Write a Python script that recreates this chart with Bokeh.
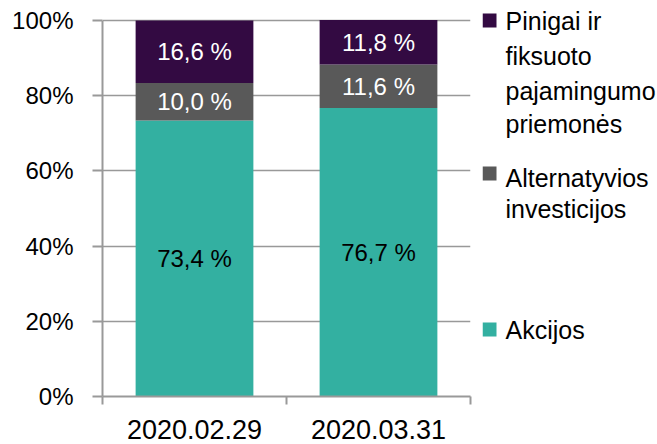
from bokeh.plotting import figure
from bokeh.layouts import row
from bokeh.models import FixedTicker, ColumnDataSource
from bokeh.core.properties import value
from bokeh.embed import file_html
from bokeh.resources import INLINE

# ---- data ----
categories = ["2020.02.29", "2020.03.31"]
akcijos = [73.4, 76.7]
alternatyvios = [10.0, 11.6]
pinigai = [16.6, 11.8]
series_names = ["Akcijos", "Alternatyvios investicijos",
                "Pinigai ir fiksuoto pajamingumo priemonės"]
legend_lines = [["Pinigai ir", "fiksuoto", "pajamingumo", "priemonės"],
                ["Alternatyvios", "investicijos"],
                ["Akcijos"]]
y_ticks = [0, 20, 40, 60, 80, 100]
y_tick_labels = ["0%", "20%", "40%", "60%", "80%", "100%"]

# ---- styles ----
colors = ["#33B0A1", "#595959", "#330A42"]
label_colors = ["black", "white", "white"]
FONT = "Liberation Sans"
AXIS_GRAY = "#999999"

W_TOTAL, H = 657, 444
W_FRAME = 368
TOP_GAP = 20          # pixels between canvas top and the 100% line
H_AXIS = 376          # pixel height of the 0..100% axis
B_LEFT, B_RIGHT = 102, 12
H_FRAME = TOP_GAP + H_AXIS
B_BOTTOM = H - H_FRAME
W_MAIN = B_LEFT + W_FRAME + B_RIGHT
W_LEG = W_TOTAL - W_MAIN
Y_MAX = 100.0
y_top = Y_MAX * H_FRAME / H_AXIS

p = figure(width=W_MAIN, height=H, title=None,
           x_range=(0, len(categories)), y_range=(0, y_top),
           output_backend="svg", toolbar_location=None,
           min_border_left=B_LEFT, min_border_right=B_RIGHT,
           min_border_top=0, min_border_bottom=B_BOTTOM)
p.outline_line_color = None

xs = [i + 0.5 for i in range(len(categories))]
series = [akcijos, alternatyvios, pinigai]
bottoms = [0.0] * len(categories)
lab_x, lab_y, lab_t, lab_c = [], [], [], []
for vals, col, lc in zip(series, colors, label_colors):
    tops = [b + v for b, v in zip(bottoms, vals)]
    p.vbar(x=xs, bottom=bottoms, top=tops, width=0.64,
           fill_color=col, line_color=None)
    for x, b, t, v in zip(xs, bottoms, tops, vals):
        lab_x.append(x)
        lab_y.append((b + t) / 2)
        lab_t.append(f"{v:.1f} %".replace(".", ","))
        lab_c.append(lc)
    bottoms = tops

src = ColumnDataSource(dict(x=lab_x, y=lab_y, text=lab_t, color=lab_c))
p.text(x="x", y="y", text="text", source=src, text_color="color",
       text_align="center", text_baseline="middle",
       text_font=value(FONT), text_font_size="24px")

# grid
p.xgrid.visible = False
p.ygrid.grid_line_color = AXIS_GRAY
p.ygrid.grid_line_width = 1.5
p.ygrid.ticker = FixedTicker(ticks=y_ticks)

# y axis
ya = p.yaxis[0]
ya.bounds = (0, Y_MAX)
ya.ticker = FixedTicker(ticks=y_ticks)
ya.major_label_overrides = {t: l for t, l in zip(y_ticks, y_tick_labels)}
ya.axis_line_color = AXIS_GRAY
ya.axis_line_width = 2
ya.major_tick_line_color = AXIS_GRAY
ya.major_tick_line_width = 2
ya.major_tick_out = 10
ya.major_tick_in = 0
ya.minor_tick_line_color = None
ya.major_label_standoff = 19
ya.major_label_text_font = FONT
ya.major_label_text_font_size = "24px"
ya.major_label_text_color = "black"

# x axis
xa = p.xaxis[0]
xa.ticker = FixedTicker(ticks=xs, minor_ticks=list(range(len(categories) + 1)))
xa.major_label_overrides = {x: c for x, c in zip(xs, categories)}
xa.axis_line_color = AXIS_GRAY
xa.axis_line_width = 2
xa.major_tick_line_color = None
xa.major_tick_out = 8
xa.major_tick_in = 0
xa.minor_tick_line_color = AXIS_GRAY
xa.minor_tick_line_width = 2
xa.minor_tick_out = 8
xa.minor_tick_in = 0
xa.major_label_standoff = 15
xa.major_label_text_font = FONT
xa.major_label_text_font_size = "27px"
xa.major_label_text_color = "black"

# ---- legend as a separate panel (pixel coordinates, y from top) ----
leg = figure(width=W_LEG, height=H, title=None,
             x_range=(0, W_LEG), y_range=(H_FRAME, 0),
             output_backend="svg", toolbar_location=None,
             x_axis_location=None, y_axis_location=None,
             min_border_left=0, min_border_right=0,
             min_border_top=0, min_border_bottom=B_BOTTOM)
leg.outline_line_color = None
leg.grid.visible = False

legend_colors = [colors[2], colors[1], colors[0]]
sq_centers = [20, 173, 329]
line_baselines = [[20, 55, 90, 123], [177, 208], [329]]
SQ = 14
leg.rect(x=[SQ / 2] * 3, y=sq_centers, width=SQ, height=SQ,
         fill_color=legend_colors, line_color=None)
tx, ty, tt = [], [], []
for lines, bls in zip(legend_lines, line_baselines):
    for ln, bl in zip(lines, bls):
        tx.append(23)
        ty.append(bl)
        tt.append(ln)
leg.text(x=tx, y=ty, text=tt, text_font=value(FONT), text_font_size="25px",
         text_color="black", text_baseline="alphabetic", text_align="left")

open("out.html", "w").write(file_html(row(p, leg), INLINE))
